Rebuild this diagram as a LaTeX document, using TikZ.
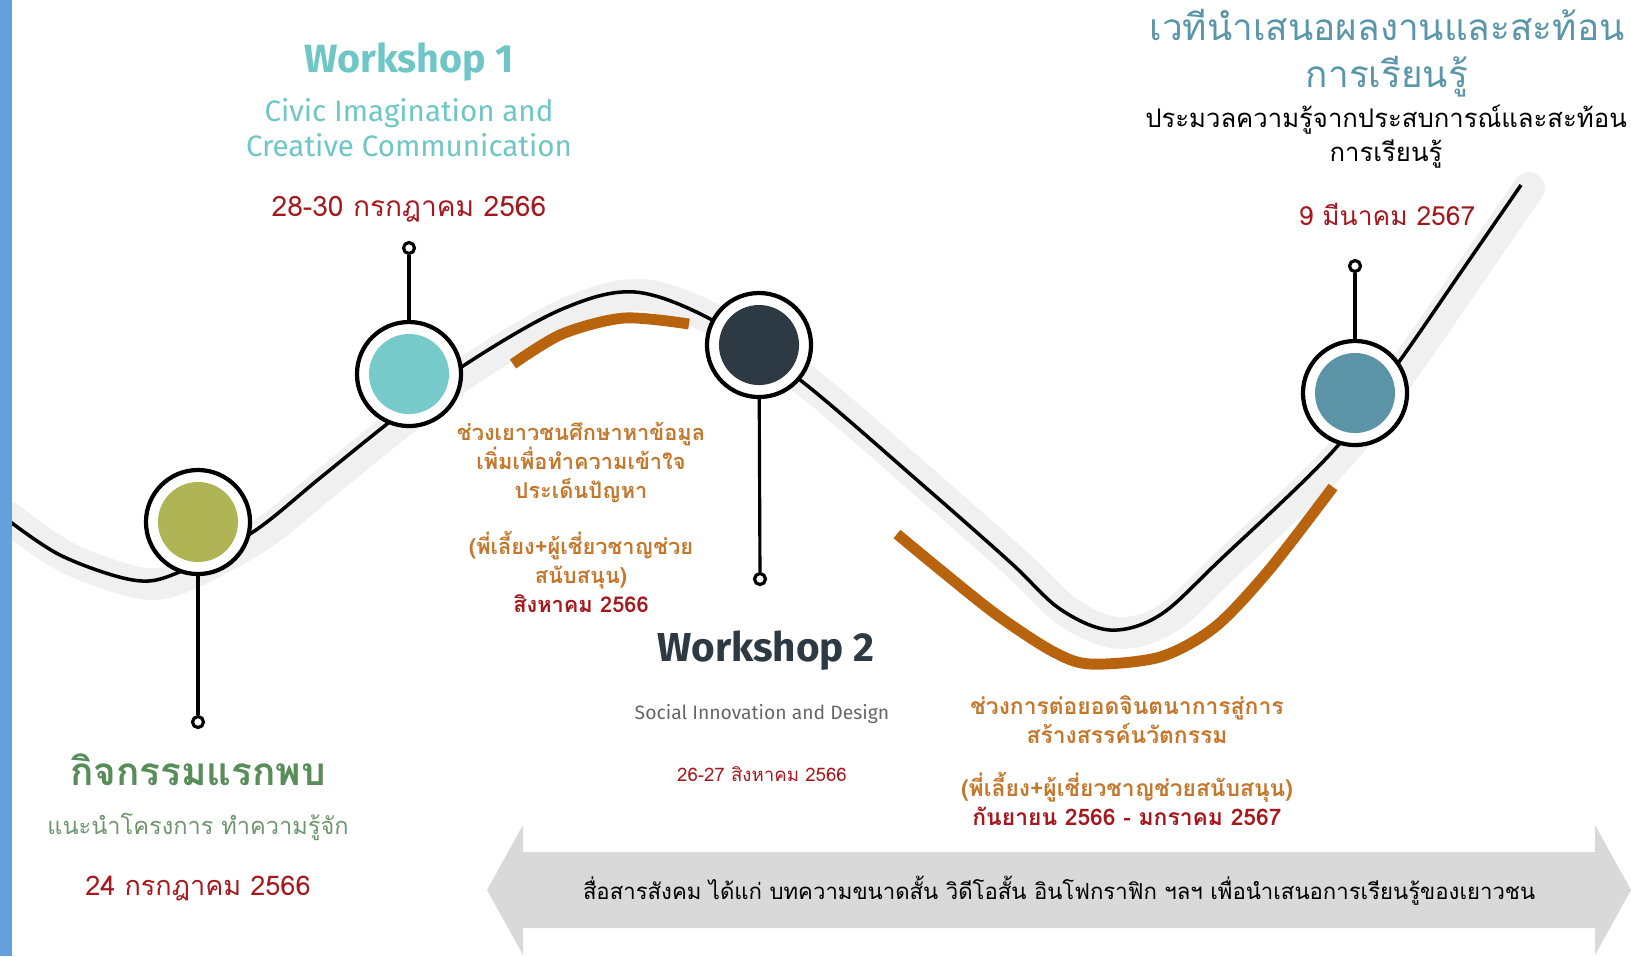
\documentclass[tikz,border=0pt]{standalone}
\usepackage{fontspec}
\setmainfont{Fira Sans}
\newfontfamily\thaifont[Script=Thai]{Loma}
\definecolor{barblue}{HTML}{64A0DC}
\definecolor{bandgray}{HTML}{F0F0F0}
\definecolor{arcorange}{HTML}{B8640F}
\definecolor{dotolive}{HTML}{AFB455}
\definecolor{dotteal}{HTML}{76CBCA}
\definecolor{dotdark}{HTML}{2D3A44}
\definecolor{dotblue}{HTML}{5A94A6}
\definecolor{datered}{HTML}{A5191E}
\definecolor{noteorange}{HTML}{C3782D}
\definecolor{meetgreen}{HTML}{588C58}
\definecolor{meetgreenlight}{HTML}{6E966E}
\definecolor{wsteal}{HTML}{6EC6C6}
\definecolor{forumblue}{HTML}{5A96AA}
\definecolor{arrowgray}{HTML}{D9D9D9}
\begin{document}
\begin{tikzpicture}[x=0.01cm,y=-0.01cm,
  every node/.style={align=center,inner sep=0pt},
  milestone/.style={circle,draw=black,line width=1.2pt,fill=white,minimum size=1.04cm,
    path picture={\fill[#1] (path picture bounding box.center) circle[radius=0.4cm];}},
  tackring/.style={circle,draw=black,line width=0.9pt,fill=white,minimum size=0.11cm},
  stem/.style={line width=0.9pt},
  note/.style={text=noteorange,font=\thaifont\bfseries\fontsize{6.2}{8.25}\selectfont}]

\useasboundingbox (0,0) rectangle (1631,956);

\draw[bandgray,line width=9pt,line cap=round,shift={(8,3)}] plot[smooth,tension=0.55] coordinates {(0,514) (60,555) (133,580) (177,573) (253,532) (320,478) (387,424) (463,366) (560,310) (635,292) (716,322) (804,383) (925,487) (1010,562) (1060,609) (1110,630) (1160,615) (1220,560) (1334,450) (1401,359) (1461,272) (1521,185)};
\draw[arcorange,line width=3.1pt] plot[smooth] coordinates {(513,364) (562,334) (624,318) (689,324)};
\draw[arcorange,line width=3.1pt] plot[smooth] coordinates {(897,534) (943,572) (997,615) (1052,651) (1090,664) (1160,657) (1215,627) (1269,570) (1333,487)};
\draw[line width=1pt] plot[smooth,tension=0.55] coordinates {(0,514) (60,555) (133,580) (177,573) (253,532) (320,478) (387,424) (463,366) (560,310) (635,292) (716,322) (804,383) (925,487) (1010,562) (1060,609) (1110,630) (1160,615) (1220,560) (1334,450) (1401,359) (1461,272) (1521,185)};

\fill[barblue] (0,0) rectangle (12,956);

\node[milestone=dotolive] (first) at (198,522) {};
\node[milestone=dotteal] (wsone) at (409,374) {};
\node[milestone=dotdark] (wstwo) at (759,345) {};
\node[milestone=dotblue] (forum) at (1355,393) {};

\node[tackring] (firstpin) at (198,722) {};
\node[tackring] (wsonepin) at (409,248) {};
\node[tackring] (wstwopin) at (760,579) {};
\node[tackring] (forumpin) at (1355,266) {};
\draw[stem] (first) -- (firstpin);
\draw[stem] (wsone) -- (wsonepin);
\draw[stem] (wstwo) -- (wstwopin);
\draw[stem] (forum) -- (forumpin);

\node[text=meetgreen,font=\thaifont\bfseries\fontsize{11}{13}\selectfont] (firsttitle) at (198,770) {กิจกรรมแรกพบ};
\node[text=meetgreenlight,font=\thaifont\fontsize{6.7}{9}\selectfont] (firstsub) at (198,827) {แนะนำโครงการ ทำความรู้จัก};
\node[text=datered,font=\thaifont\fontsize{7.7}{10}\selectfont] (firstdate) at (198,888) {24 กรกฎาคม 2566};

\node[text=wsteal,font=\bfseries\fontsize{11.2}{13}\selectfont] (wsonetitle) at (409,62) {Workshop 1};
\node[text=wsteal,font=\fontsize{8.4}{9.9}\selectfont] (wsonesub) at (409,128) {Civic Imagination and\\Creative Communication};
\node[text=datered,font=\thaifont\fontsize{8}{10}\selectfont] (wsonedate) at (409,209) {28-30 กรกฎาคม 2566};

\node[note] (studynote) at (581,463) {ช่วงเยาวชนศึกษาหาข้อมูล\\เพิ่มเพื่อทำความเข้าใจ\\ประเด็นปัญหา};
\node[note] (studyhelp) at (581,572) {(พี่เลี้ยง+ผู้เชี่ยวชาญช่วย\\สนับสนุน)\\\textcolor{datered}{สิงหาคม 2566}};

\node[text=dotdark,font=\bfseries\fontsize{11.5}{13}\selectfont] (wstwotitle) at (766,651) {Workshop 2};
\node[text=black!60,font=\fontsize{5.5}{8}\selectfont] (wstwosub) at (762,714) {Social Innovation and Design};
\node[text=datered,font=\thaifont\fontsize{5.3}{8}\selectfont] (wstwodate) at (762,774) {26-27 สิงหาคม 2566};

\node[note,font=\thaifont\bfseries\fontsize{6.5}{8.25}\selectfont] (buildnote) at (1127,720) {ช่วงการต่อยอดจินตนาการสู่การ\\สร้างสรรค์นวัตกรรม};
\node[note,font=\thaifont\bfseries\fontsize{6.5}{8.25}\selectfont] (buildhelp) at (1127,799) {(พี่เลี้ยง+ผู้เชี่ยวชาญช่วยสนับสนุน)\\\textcolor{datered}{กันยายน 2566 - มกราคม 2567}};

\node[text=forumblue,font=\thaifont\fontsize{10.5}{13.4}\selectfont] (forumtitle) at (1387,53) {เวทีนำเสนอผลงานและสะท้อน\\การเรียนรู้};
\node[text=black,font=\thaifont\fontsize{7.3}{9.7}\selectfont] (forumsub) at (1386,137) {ประมวลความรู้จากประสบการณ์และสะท้อน\\การเรียนรู้};
\node[text=datered,font=\thaifont\fontsize{7.5}{10}\selectfont] (forumdate) at (1387,214) {9 มีนาคม 2567};

\fill[arrowgray] (487,890) -- (523,825) -- (523,852) -- (1595,852) -- (1595,825) -- (1631,890) -- (1595,955) -- (1595,928) -- (523,928) -- (523,955) -- cycle;
\node[font=\thaifont\fontsize{6.3}{8}\selectfont] (mediatext) at (1059,891) {สื่อสารสังคม ได้แก่ บทความขนาดสั้น วิดีโอสั้น อินโฟกราฟิก ฯลฯ เพื่อนำเสนอการเรียนรู้ของเยาวชน};
\end{tikzpicture}
\end{document}
